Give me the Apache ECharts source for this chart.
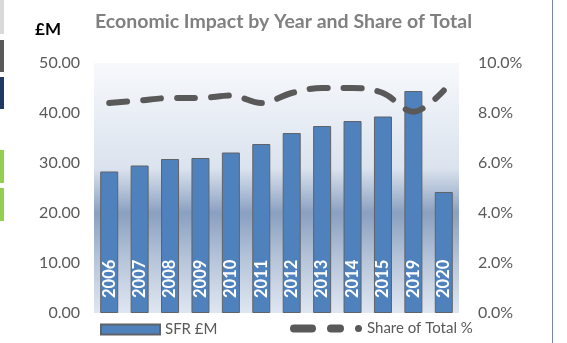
<!DOCTYPE html>
<html>
<head>
<meta charset="utf-8">
<script src="https://cdn.jsdelivr.net/npm/echarts@6/dist/echarts.min.js"></script>
<style>
  html, body { margin: 0; padding: 0; background: #ffffff; }
  #chart { width: 567px; height: 343px; }
</style>
</head>
<body>
<div id="chart"></div>
<script>
// Years shown on the category axis
const years = ['2006', '2007', '2008', '2009', '2010', '2011', '2012', '2013', '2014', '2015', '2019', '2020'];
// Economic impact, £ millions
const sfrValues = [28.3, 29.5, 30.8, 31.0, 32.1, 33.8, 36.0, 37.4, 38.4, 39.3, 44.4, 24.2];
// Share of total, percent
const sharePct = [8.4, 8.5, 8.6, 8.6, 8.7, 8.4, 8.8, 9.0, 9.0, 8.8, 8.05, 8.9];

const FONT = 'Lato';
const chart = echarts.init(document.getElementById('chart'), null, { renderer: 'canvas' });

// Legend glyph for the dashed line: two rounded dashes and a dot
const dashIcon = 'path://M4,0 L22,0 A4,4 0 0 1 22,8 L4,8 A4,4 0 0 1 4,0 Z ' +
  'M41,0 L50,0 A4,4 0 0 1 50,8 L41,8 A4,4 0 0 1 41,0 Z ' +
  'M68.5,0.5 A3.5,3.5 0 1 1 68.5,7.5 A3.5,3.5 0 1 1 68.5,0.5 Z';

chart.setOption({
  backgroundColor: '#ffffff',
  animation: false,
  textStyle: { fontFamily: FONT },
  title: {
    text: 'Economic Impact by Year and Share of Total',
    left: 'center',
    top: 7,
    textStyle: { fontFamily: FONT, fontWeight: 'bold', fontSize: 19.5, color: '#808080' }
  },
  legend: [
    {
      data: ['SFR £M'],
      left: 95, top: 317,
      icon: 'rect', itemWidth: 59, itemHeight: 10, itemGap: 8,
      textStyle: { fontFamily: FONT, fontSize: 15, color: '#595959' }
    },
    {
      data: [{ name: 'Share of Total %', icon: dashIcon }],
      left: 285, top: 316,
      itemWidth: 72, itemHeight: 8,
      textStyle: { fontFamily: FONT, fontSize: 15, color: '#595959' }
    }
  ],
  grid: {
    left: 94, right: 108, top: 63, bottom: 30,
    show: true, borderWidth: 0,
    backgroundColor: {
      type: 'linear', x: 0, y: 0, x2: 0, y2: 1,
      colorStops: [
        { offset: 0, color: '#f7f9fc' },
        { offset: 0.42, color: '#dbe3ee' },
        { offset: 0.6, color: '#8aa0c0' },
        { offset: 0.8, color: '#b9c7db' },
        { offset: 1, color: '#dfe6f1' }
      ]
    }
  },
  xAxis: {
    type: 'category',
    data: years,
    axisLine: { show: false },
    axisTick: { show: false },
    axisLabel: { show: false },
    splitLine: { show: false }
  },
  yAxis: [
    {
      type: 'value', min: 0, max: 50, interval: 10,
      name: '£M',
      nameLocation: 'end',
      nameGap: 25,
      nameTextStyle: { fontFamily: FONT, fontWeight: 'bold', fontSize: 17, color: '#000000', align: 'right', padding: [0, 33, 0, 0] },
      axisLine: { show: false },
      axisTick: { show: false },
      splitLine: { show: false },
      axisLabel: {
        margin: 14, fontFamily: FONT, fontSize: 16, color: '#595959',
        formatter: v => v.toFixed(2)
      }
    },
    {
      type: 'value', min: 0, max: 10, interval: 2,
      position: 'right',
      axisLine: { show: false },
      axisTick: { show: false },
      splitLine: { show: false },
      axisLabel: {
        margin: 19, fontFamily: FONT, fontSize: 16, color: '#595959',
        formatter: v => v.toFixed(1) + '%'
      }
    }
  ],
  series: [
    {
      name: 'SFR £M',
      type: 'bar',
      data: sfrValues,
      barWidth: 18,
      itemStyle: { color: '#4f81bd', borderColor: '#5f6368', borderWidth: 1 },
      label: {
        show: true,
        position: 'insideBottom',
        distance: 15,
        rotate: 90,
        align: 'left',
        verticalAlign: 'middle',
        formatter: '{b}',
        fontFamily: FONT, fontWeight: 'bold', fontSize: 16.5, color: '#ffffff'
      }
    },
    {
      name: 'Share of Total %',
      type: 'line',
      yAxisIndex: 1,
      data: sharePct,
      smooth: 0.35,
      symbol: 'none',
      itemStyle: { color: '#595959' },
      lineStyle: { color: '#595959', width: 6, type: [18, 16], cap: 'round', join: 'round' },
      z: 5
    }
  ],
  graphic: [
    // narrow tabs along the left edge of the panel
    { type: 'rect', shape: { x: 0, y: 0, width: 4, height: 34 }, style: { fill: '#d9d9d9' }, silent: true },
    { type: 'rect', shape: { x: 0, y: 40, width: 4, height: 32 }, style: { fill: '#595959' }, silent: true },
    { type: 'rect', shape: { x: 0, y: 77, width: 4, height: 32 }, style: { fill: '#203864' }, silent: true },
    { type: 'rect', shape: { x: 0, y: 150, width: 4, height: 33 }, style: { fill: '#92d050' }, silent: true },
    { type: 'rect', shape: { x: 0, y: 188, width: 4, height: 33 }, style: { fill: '#92d050' }, silent: true },
    // panel divider on the right
    { type: 'line', shape: { x1: 552.5, y1: 0, x2: 552.5, y2: 343 }, style: { stroke: '#7282c2', lineWidth: 1 }, silent: true }
  ]
});
</script>
</body>
</html>
